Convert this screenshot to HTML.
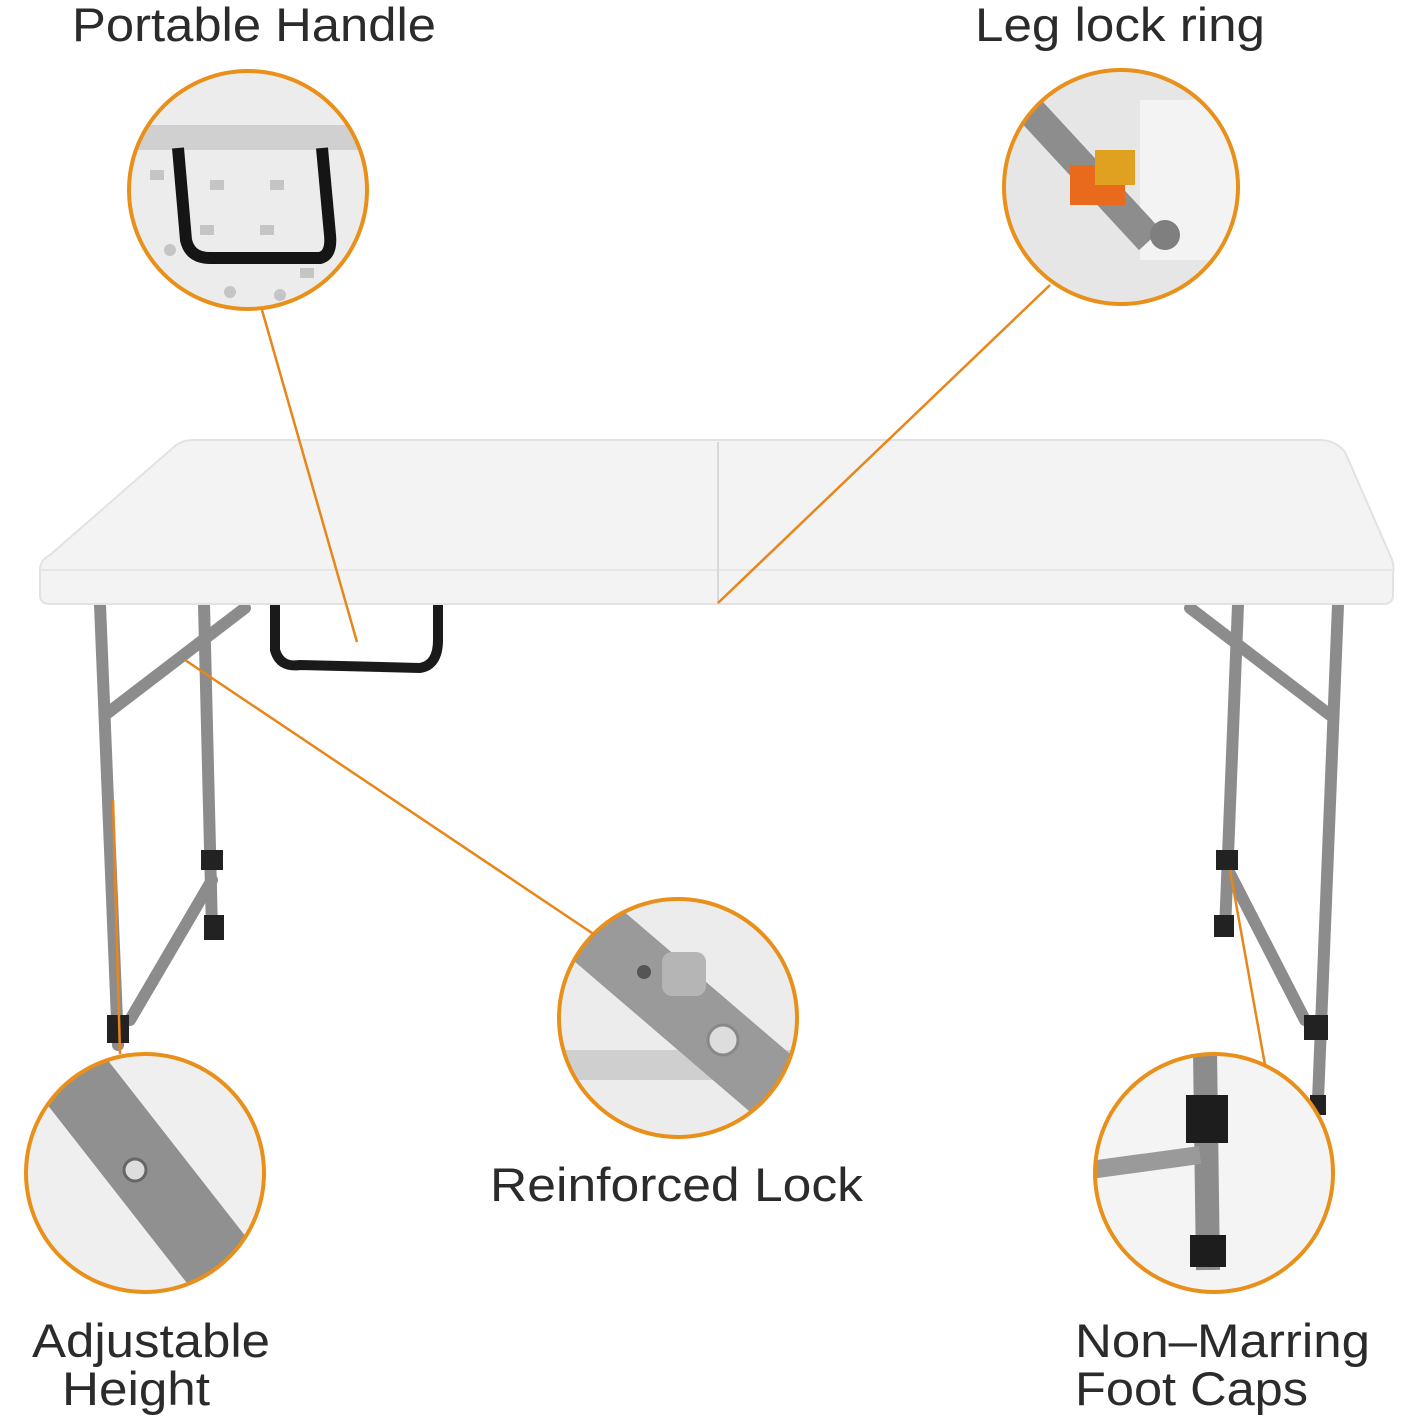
<!DOCTYPE html>
<html><head><meta charset="utf-8"><style>
html,body{margin:0;padding:0;background:#fff;}
svg{display:block;}
text{font-family:"Liberation Sans",sans-serif;fill:#2b2b2b;font-size:47px;}
</style></head><body>
<svg width="1418" height="1418" viewBox="0 0 1418 1418" xmlns="http://www.w3.org/2000/svg">
<defs>
<clipPath id="c1"><circle cx="248" cy="190" r="118"/></clipPath>
<clipPath id="c2"><circle cx="1121" cy="187" r="116"/></clipPath>
<clipPath id="c3"><circle cx="678" cy="1018" r="118"/></clipPath>
<clipPath id="c4"><circle cx="145" cy="1173" r="118"/></clipPath>
<clipPath id="c5"><circle cx="1214" cy="1173" r="118"/></clipPath>
</defs>
<rect width="1418" height="1418" fill="#fff"/>
<text x="72" y="41" textLength="364" lengthAdjust="spacingAndGlyphs">Portable Handle</text>
<text x="975" y="41" textLength="290" lengthAdjust="spacingAndGlyphs">Leg lock ring</text>
<text x="490" y="1201" textLength="373" lengthAdjust="spacingAndGlyphs">Reinforced Lock</text>
<text x="32" y="1357" textLength="238" lengthAdjust="spacingAndGlyphs">Adjustable</text>
<text x="62" y="1405" textLength="148" lengthAdjust="spacingAndGlyphs">Height</text>
<text x="1075" y="1357" textLength="295" lengthAdjust="spacingAndGlyphs">Non–Marring</text>
<text x="1075" y="1405" textLength="233" lengthAdjust="spacingAndGlyphs">Foot Caps</text>

<g stroke="#8c8c8c" stroke-width="12" fill="none" stroke-linecap="round">
<line x1="100" y1="605" x2="118" y2="1045"/>
<line x1="204" y1="605" x2="212" y2="930"/>
<line x1="105" y1="715" x2="245" y2="608"/>
<line x1="130" y1="1020" x2="212" y2="880"/>
<line x1="1338" y1="605" x2="1318" y2="1100"/>
<line x1="1238" y1="605" x2="1225" y2="930"/>
<line x1="1330" y1="715" x2="1190" y2="608"/>
<line x1="1305" y1="1020" x2="1228" y2="870"/>
</g>
<g fill="#222">
<rect x="107" y="1015" width="22" height="28"/>
<rect x="201" y="850" width="22" height="20"/>
<rect x="204" y="915" width="20" height="25"/>
<rect x="1216" y="850" width="22" height="20"/>
<rect x="1214" y="915" width="20" height="22"/>
<rect x="1304" y="1015" width="24" height="25"/>
<rect x="1310" y="1095" width="16" height="20"/>
</g>
<path d="M275 602 L275 650 Q280 668 300 665 L420 668 Q438 665 438 640 L438 602" fill="none" stroke="#1a1a1a" stroke-width="10"/>
<path d="M40 570 Q40 560 50 555 L175 446 Q182 440 195 440 L1320 440 Q1335 440 1345 452 L1390 555 Q1395 565 1393 575 L1393 595 Q1393 604 1383 604 L50 604 Q40 604 40 595 Z" fill="#f3f3f4" stroke="#e2e2e2" stroke-width="2"/>
<path d="M40 570 L1393 570" stroke="#e6e6e6" stroke-width="2"/>
<line x1="718" y1="442" x2="718" y2="604" stroke="#d8d8d8" stroke-width="2"/>

<g clip-path="url(#c1)">
<rect x="120" y="60" width="260" height="260" fill="#ececec"/>
<rect x="120" y="125" width="260" height="25" fill="#d0d0d0"/>
<g fill="#c5c5c5"><rect x="150" y="170" width="14" height="10"/><rect x="210" y="180" width="14" height="10"/><rect x="270" y="180" width="14" height="10"/><rect x="200" y="225" width="14" height="10"/><rect x="260" y="225" width="14" height="10"/><rect x="300" y="268" width="14" height="10"/><circle cx="230" cy="292" r="6"/><circle cx="280" cy="295" r="6"/><circle cx="170" cy="250" r="6"/></g>
<path d="M178 148 L186 240 Q190 258 210 258 L320 258 Q332 255 330 235 L322 148" fill="none" stroke="#151515" stroke-width="12"/>
</g>
<g clip-path="url(#c2)">
<rect x="1000" y="65" width="250" height="250" fill="#e6e6e6"/>
<rect x="1140" y="100" width="100" height="160" fill="#f3f3f3"/>
<line x1="1030" y1="110" x2="1150" y2="240" stroke="#8d8d8d" stroke-width="30"/>
<rect x="1070" y="165" width="55" height="40" fill="#e96a1c"/>
<rect x="1095" y="150" width="40" height="35" fill="#e0a020"/>
<circle cx="1165" cy="235" r="15" fill="#7f7f7f"/>
</g>
<g clip-path="url(#c3)">
<rect x="555" y="895" width="250" height="250" fill="#ececec"/>
<rect x="555" y="1050" width="250" height="30" fill="#cfcfcf"/>
<line x1="580" y1="920" x2="790" y2="1100" stroke="#9a9a9a" stroke-width="70"/>
<rect x="662" y="952" width="44" height="44" rx="10" fill="#b5b5b5"/>
<circle cx="644" cy="972" r="7" fill="#555"/>
<circle cx="723" cy="1040" r="15" fill="#ddd" stroke="#888" stroke-width="3"/>
</g>
<g clip-path="url(#c4)">
<rect x="20" y="1050" width="250" height="250" fill="#efefef"/>
<line x1="60" y1="1060" x2="240" y2="1290" stroke="#909090" stroke-width="75"/>
<circle cx="135" cy="1170" r="11" fill="#ddd" stroke="#666" stroke-width="3"/>
</g>
<g clip-path="url(#c5)">
<rect x="1090" y="1050" width="250" height="250" fill="#f4f4f4"/>
<line x1="1205" y1="1050" x2="1208" y2="1270" stroke="#8c8c8c" stroke-width="24"/>
<line x1="1090" y1="1170" x2="1200" y2="1155" stroke="#9a9a9a" stroke-width="18"/>
<rect x="1186" y="1095" width="42" height="48" fill="#1d1d1d"/>
<rect x="1190" y="1235" width="36" height="32" fill="#1d1d1d"/>
</g>

<g fill="none" stroke="#e8901a" stroke-width="4">
<circle cx="248" cy="190" r="119"/>
<circle cx="1121" cy="187" r="117"/>
<circle cx="678" cy="1018" r="119"/>
<circle cx="145" cy="1173" r="119"/>
<circle cx="1214" cy="1173" r="119"/>
</g>
<g stroke="#e8861a" stroke-width="2.5">
<line x1="262" y1="310" x2="357" y2="642"/>
<line x1="1050" y1="285" x2="718" y2="603"/>
<line x1="185" y1="660" x2="595" y2="935"/>
<line x1="113" y1="800" x2="120" y2="1054"/>
<line x1="1230" y1="870" x2="1265" y2="1065"/>
</g>
</svg>
</body></html>
